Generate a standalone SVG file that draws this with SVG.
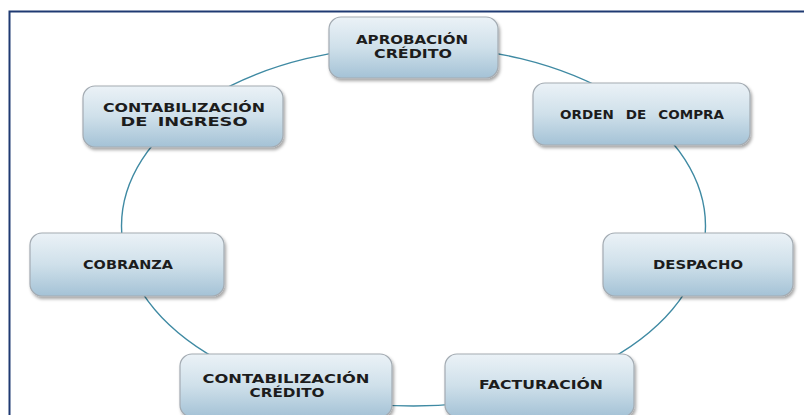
<svg xmlns="http://www.w3.org/2000/svg" width="804" height="415" viewBox="0 0 804 415">
<defs>
<linearGradient id="g" x1="0" y1="0" x2="0" y2="1">
<stop offset="0" stop-color="#ebf2f7"/>
<stop offset="0.5" stop-color="#cfe0ea"/>
<stop offset="1" stop-color="#a4c2d6"/>
</linearGradient>
<filter id="sh" x="-10%" y="-10%" width="125%" height="135%">
<feDropShadow dx="1.5" dy="2.5" stdDeviation="1.8" flood-color="#000" flood-opacity="0.35"/>
</filter>
</defs>
<style>
.box{fill:url(#g);stroke:#a3abb2;stroke-width:1.2;filter:url(#sh)}
.t{font-family:"DejaVu Sans","Liberation Sans",sans-serif;font-weight:bold;font-size:13px;fill:#1c1c1c;text-anchor:middle}
.w{word-spacing:7px}
.w2{word-spacing:3px}
.ring{fill:none;stroke:#3f8aa3;stroke-width:1.4}
</style>
<rect width="804" height="415" fill="#ffffff"/>
<rect x="9.5" y="11.5" width="800" height="410" fill="none" stroke="#1f3a72" stroke-width="2"/>
<g id="connectors">
<ellipse class="ring" cx="413.5" cy="226" rx="292" ry="180"/>
</g>
<g id="aprobacion">
<rect class="box" x="329" y="17" width="169" height="61" rx="12"/>
<text class="t" x="412" y="44" textLength="112" lengthAdjust="spacingAndGlyphs">APROBACIÓN</text>
<text class="t" x="413" y="58" textLength="78" lengthAdjust="spacingAndGlyphs">CRÉDITO</text>
</g>
<g id="orden">
<rect class="box" x="533" y="83" width="217" height="62" rx="12"/>
<text class="t w" x="642" y="119" textLength="164" lengthAdjust="spacingAndGlyphs">ORDEN DE COMPRA</text>
</g>
<g id="despacho">
<rect class="box" x="603" y="233" width="190" height="63" rx="12"/>
<text class="t" x="698" y="268.5" textLength="90" lengthAdjust="spacingAndGlyphs">DESPACHO</text>
</g>
<g id="facturacion">
<rect class="box" x="445" y="354" width="189" height="63" rx="12"/>
<text class="t" x="541" y="388.5" textLength="124" lengthAdjust="spacingAndGlyphs">FACTURACIÓN</text>
</g>
<g id="contab-credito">
<rect class="box" x="180" y="354" width="212" height="63" rx="12"/>
<text class="t" x="286" y="383" textLength="167" lengthAdjust="spacingAndGlyphs">CONTABILIZACIÓN</text>
<text class="t" x="287" y="397" textLength="75" lengthAdjust="spacingAndGlyphs">CRÉDITO</text>
</g>
<g id="cobranza">
<rect class="box" x="30" y="233" width="194" height="63" rx="12"/>
<text class="t" x="128" y="268.5" textLength="90" lengthAdjust="spacingAndGlyphs">COBRANZA</text>
</g>
<g id="contab-ingreso">
<rect class="box" x="83" y="86" width="200" height="61" rx="12"/>
<text class="t" x="184" y="111.5" textLength="162" lengthAdjust="spacingAndGlyphs">CONTABILIZACIÓN</text>
<text class="t w2" x="184" y="125.5" textLength="127" lengthAdjust="spacingAndGlyphs">DE INGRESO</text>
</g>
</svg>
